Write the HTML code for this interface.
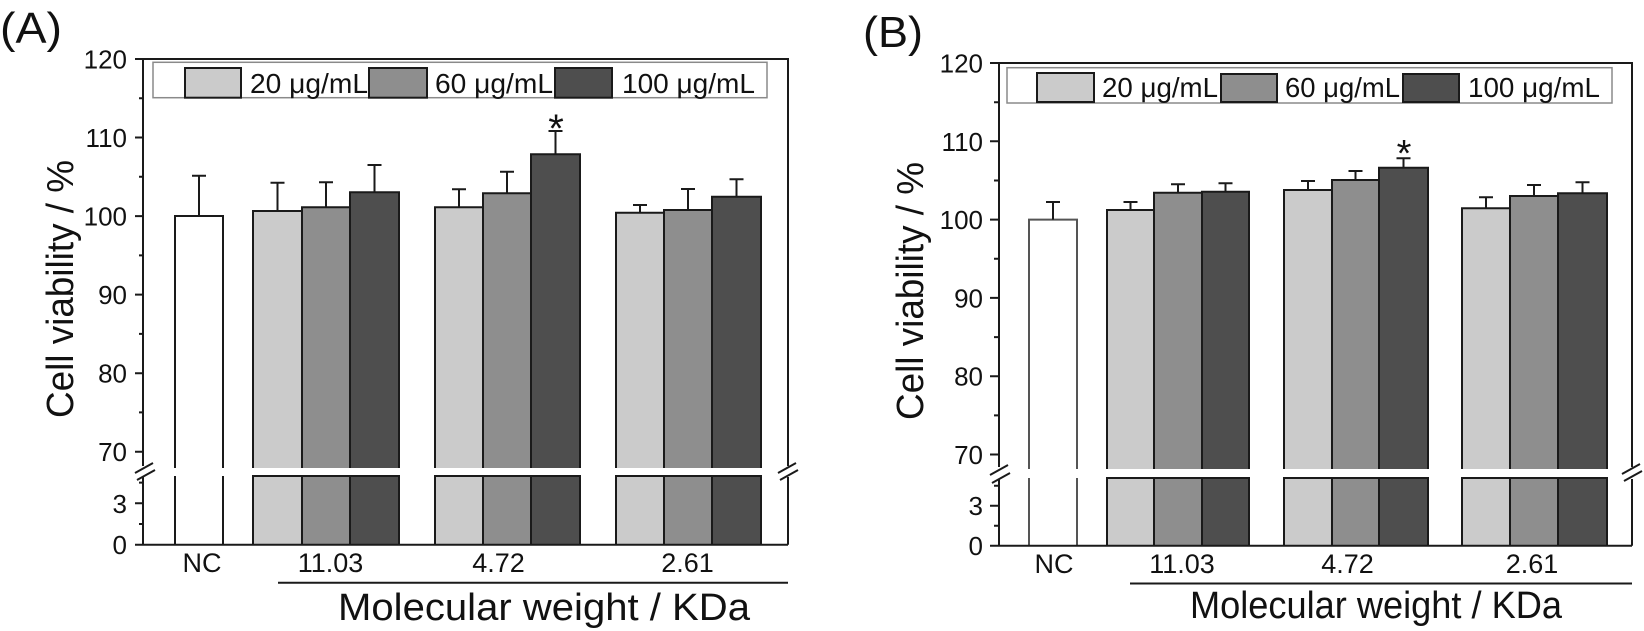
<!DOCTYPE html>
<html>
<head>
<meta charset="utf-8">
<style>
html,body{margin:0;padding:0;background:#fff;}
svg{display:block;}
text{font-family:"Liberation Sans",Arial,sans-serif;fill:#111;}
</style>
</head>
<body>
<svg width="1644" height="631" viewBox="0 0 1644 631" xmlns="http://www.w3.org/2000/svg">
<rect width="1644" height="631" fill="#fff"/>

<!-- ================= PANEL A ================= -->
<text x="0" y="43" font-size="44" textLength="62" lengthAdjust="spacingAndGlyphs">(A)</text>

<g stroke="none">
  <rect x="175" y="216" width="48" height="252" fill="#fff"/>
  <rect x="175" y="476" width="48" height="69" fill="#fff"/>
  <rect x="253" y="211" width="49" height="257" fill="#cbcbcb"/>
  <rect x="253" y="476" width="49" height="69" fill="#cbcbcb"/>
  <rect x="302" y="207.3" width="48" height="260.7" fill="#8e8e8e"/>
  <rect x="302" y="476" width="48" height="69" fill="#8e8e8e"/>
  <rect x="350" y="192.3" width="49" height="275.7" fill="#4e4e4e"/>
  <rect x="350" y="476" width="49" height="69" fill="#4e4e4e"/>
  <rect x="435" y="207.3" width="48" height="260.7" fill="#cbcbcb"/>
  <rect x="435" y="476" width="48" height="69" fill="#cbcbcb"/>
  <rect x="483" y="193.3" width="48" height="274.7" fill="#8e8e8e"/>
  <rect x="483" y="476" width="48" height="69" fill="#8e8e8e"/>
  <rect x="531" y="154.3" width="49" height="313.7" fill="#4e4e4e"/>
  <rect x="531" y="476" width="49" height="69" fill="#4e4e4e"/>
  <rect x="616" y="212.7" width="48" height="255.3" fill="#cbcbcb"/>
  <rect x="616" y="476" width="48" height="69" fill="#cbcbcb"/>
  <rect x="664" y="210" width="48" height="258" fill="#8e8e8e"/>
  <rect x="664" y="476" width="48" height="69" fill="#8e8e8e"/>
  <rect x="712" y="196.7" width="49" height="271.3" fill="#4e4e4e"/>
  <rect x="712" y="476" width="49" height="69" fill="#4e4e4e"/>
</g>
<g fill="none" stroke="#1a1a1a" stroke-width="2">
  <path d="M175 468V216H223V468M175 476V545M223 476V545"/>
  <path d="M253 468V211H302V468M253 545V476H302V545"/>
  <path d="M302 468V207.3H350V468M302 545V476H350V545"/>
  <path d="M350 468V192.3H399V468M350 545V476H399V545"/>
  <path d="M435 468V207.3H483V468M435 545V476H483V545"/>
  <path d="M483 468V193.3H531V468M483 545V476H531V545"/>
  <path d="M531 468V154.3H580V468M531 545V476H580V545"/>
  <path d="M616 468V212.7H664V468M616 545V476H664V545"/>
  <path d="M664 468V210H712V468M664 545V476H712V545"/>
  <path d="M712 468V196.7H761V468M712 545V476H761V545"/>
</g>
<g fill="none" stroke="#1a1a1a" stroke-width="2">
  <path d="M199 216V175.7M192 175.7H206"/>
  <path d="M277.5 211V182.7M270.5 182.7H284.5"/>
  <path d="M326 207.3V182.3M319 182.3H333"/>
  <path d="M374.5 192.3V165M367.5 165H381.5"/>
  <path d="M459 207.3V189.3M452 189.3H466"/>
  <path d="M507 193.3V171.7M500 171.7H514"/>
  <path d="M555.5 154.3V131M548.5 131H562.5"/>
  <path d="M640 212.7V205M633 205H647"/>
  <path d="M688 210V189M681 189H695"/>
  <path d="M736.5 196.7V179.3M729.5 179.3H743.5"/>
</g>
<text x="556" y="142" font-size="40" text-anchor="middle" fill="#333">*</text>

<g fill="none" stroke="#1a1a1a" stroke-width="2">
  <path d="M143 466V59H788V466"/>
  <path d="M143 477V544.7M788 477V544.7"/>
  <path d="M135 544.7H788"/>
  <path d="M135 473L153 463M137 480L155 470"/>
  <path d="M778 473L796 463M780 480L798 470"/>
  <path d="M135 59H143M135 137.5H143M135 216.1H143M135 294.6H143M135 373.2H143M135 451.7H143M135 503.3H143"/>
  <path d="M139 98.3H143M139 176.8H143M139 255.4H143M139 333.9H143M139 412.4H143M139 524H143M139 482.6H143"/>
</g>
<g font-size="26" text-anchor="end">
  <text x="127" y="68.5">120</text>
  <text x="127" y="147">110</text>
  <text x="127" y="225.5">100</text>
  <text x="127" y="304">90</text>
  <text x="127" y="382.5">80</text>
  <text x="127" y="461">70</text>
  <text x="127" y="512.8">3</text>
  <text x="127" y="554.2">0</text>
</g>

<rect x="153" y="62.3" width="614" height="35.4" fill="#fff" stroke="#8a8a8a" stroke-width="1.5"/>
<rect x="185" y="68" width="56" height="29.7" fill="#cbcbcb" stroke="#1a1a1a" stroke-width="2"/>
<rect x="369" y="68" width="58" height="29.7" fill="#8e8e8e" stroke="#1a1a1a" stroke-width="2"/>
<rect x="555" y="68" width="57" height="29.7" fill="#4e4e4e" stroke="#1a1a1a" stroke-width="2"/>
<g font-size="28">
  <text x="250" y="93" textLength="118" lengthAdjust="spacingAndGlyphs">20 μg/mL</text>
  <text x="435" y="93" textLength="118" lengthAdjust="spacingAndGlyphs">60 μg/mL</text>
  <text x="622" y="93" textLength="133" lengthAdjust="spacingAndGlyphs">100 μg/mL</text>
</g>

<text transform="translate(73,289) rotate(-90)" font-size="38" text-anchor="middle" textLength="258" lengthAdjust="spacingAndGlyphs">Cell viability / %</text>
<g font-size="27" text-anchor="middle">
  <text x="202" y="572">NC</text>
  <text x="330.5" y="572">11.03</text>
  <text x="498.5" y="572">4.72</text>
  <text x="687.5" y="572">2.61</text>
</g>
<path d="M278 582.7H788" stroke="#1a1a1a" stroke-width="2"/>
<text x="338" y="620" font-size="38" textLength="412" lengthAdjust="spacingAndGlyphs">Molecular weight / KDa</text>

<!-- ================= PANEL B ================= -->
<text x="863" y="47" font-size="44" textLength="60" lengthAdjust="spacingAndGlyphs">(B)</text>

<g stroke="none">
  <rect x="1029" y="219.6" width="48" height="249.4" fill="#fff"/>
  <rect x="1029" y="478" width="48" height="68" fill="#fff"/>
  <rect x="1107" y="210" width="47" height="259" fill="#cbcbcb"/>
  <rect x="1107" y="478" width="47" height="68" fill="#cbcbcb"/>
  <rect x="1154" y="192.7" width="48" height="276.3" fill="#8e8e8e"/>
  <rect x="1154" y="478" width="48" height="68" fill="#8e8e8e"/>
  <rect x="1202" y="191.7" width="47" height="277.3" fill="#4e4e4e"/>
  <rect x="1202" y="478" width="47" height="68" fill="#4e4e4e"/>
  <rect x="1284" y="190" width="48" height="279" fill="#cbcbcb"/>
  <rect x="1284" y="478" width="48" height="68" fill="#cbcbcb"/>
  <rect x="1332" y="180" width="47" height="289" fill="#8e8e8e"/>
  <rect x="1332" y="478" width="47" height="68" fill="#8e8e8e"/>
  <rect x="1379" y="167.7" width="49" height="301.3" fill="#4e4e4e"/>
  <rect x="1379" y="478" width="49" height="68" fill="#4e4e4e"/>
  <rect x="1462" y="208.3" width="48" height="260.7" fill="#cbcbcb"/>
  <rect x="1462" y="478" width="48" height="68" fill="#cbcbcb"/>
  <rect x="1510" y="196" width="48" height="273" fill="#8e8e8e"/>
  <rect x="1510" y="478" width="48" height="68" fill="#8e8e8e"/>
  <rect x="1558" y="193.3" width="49" height="275.7" fill="#4e4e4e"/>
  <rect x="1558" y="478" width="49" height="68" fill="#4e4e4e"/>
</g>
<g fill="none" stroke="#1a1a1a" stroke-width="2">
  <path d="M1029 469V219.6H1077V469M1029 478V546M1077 478V546" stroke="#555"/>
  <path d="M1107 469V210H1154V469M1107 546V478H1154V546"/>
  <path d="M1154 469V192.7H1202V469M1154 546V478H1202V546"/>
  <path d="M1202 469V191.7H1249V469M1202 546V478H1249V546"/>
  <path d="M1284 469V190H1332V469M1284 546V478H1332V546"/>
  <path d="M1332 469V180H1379V469M1332 546V478H1379V546"/>
  <path d="M1379 469V167.7H1428V469M1379 546V478H1428V546"/>
  <path d="M1462 469V208.3H1510V469M1462 546V478H1510V546"/>
  <path d="M1510 469V196H1558V469M1510 546V478H1558V546"/>
  <path d="M1558 469V193.3H1607V469M1558 546V478H1607V546"/>
</g>
<g fill="none" stroke="#1a1a1a" stroke-width="2">
  <path d="M1053 219.6V202M1046 202H1060"/>
  <path d="M1130.5 210V202M1123.5 202H1137.5"/>
  <path d="M1178 192.7V184.3M1171 184.3H1185"/>
  <path d="M1225.5 191.7V183.3M1218.5 183.3H1232.5"/>
  <path d="M1308 190V181M1301 181H1315"/>
  <path d="M1355.5 180V171M1348.5 171H1362.5"/>
  <path d="M1403.5 167.7V158.3M1396.5 158.3H1410.5"/>
  <path d="M1486 208.3V197.3M1479 197.3H1493"/>
  <path d="M1534 196V185M1527 185H1541"/>
  <path d="M1582.5 193.3V182.3M1575.5 182.3H1589.5"/>
</g>
<text x="1404" y="166" font-size="38" text-anchor="middle" fill="#333">*</text>

<g fill="none" stroke="#1a1a1a" stroke-width="2">
  <path d="M999 467V63H1632V467"/>
  <path d="M999 479V545.7M1632 479V545.7"/>
  <path d="M990 545.7H1632"/>
  <path d="M990 475L1008 465M992 483L1010 473"/>
  <path d="M1622 474L1640 464M1624 481L1642 471"/>
  <path d="M990 63H999M990 141.3H999M990 219.6H999M990 297.9H999M990 376.2H999M990 454.5H999M990 505.7H999"/>
  <path d="M994 102.2H999M994 180.5H999M994 258.8H999M994 337.1H999M994 415.4H999M994 525.7H999M994 485.7H999"/>
</g>
<g font-size="26" text-anchor="end">
  <text x="983" y="72.5">120</text>
  <text x="983" y="150.8">110</text>
  <text x="983" y="229.1">100</text>
  <text x="983" y="307.4">90</text>
  <text x="983" y="385.7">80</text>
  <text x="983" y="464">70</text>
  <text x="983" y="515.2">3</text>
  <text x="983" y="555.2">0</text>
</g>

<rect x="1007" y="67.7" width="605" height="35.3" fill="#fff" stroke="#8a8a8a" stroke-width="1.5"/>
<rect x="1037" y="73" width="57" height="29" fill="#cbcbcb" stroke="#1a1a1a" stroke-width="2"/>
<rect x="1221" y="74" width="56" height="28" fill="#8e8e8e" stroke="#1a1a1a" stroke-width="2"/>
<rect x="1403" y="74" width="56" height="28" fill="#4e4e4e" stroke="#1a1a1a" stroke-width="2"/>
<g font-size="28">
  <text x="1102" y="97" textLength="116" lengthAdjust="spacingAndGlyphs">20 μg/mL</text>
  <text x="1285" y="97" textLength="115" lengthAdjust="spacingAndGlyphs">60 μg/mL</text>
  <text x="1468" y="97" textLength="132" lengthAdjust="spacingAndGlyphs">100 μg/mL</text>
</g>

<text transform="translate(923,291) rotate(-90)" font-size="38" text-anchor="middle" textLength="258" lengthAdjust="spacingAndGlyphs">Cell viability / %</text>
<g font-size="27" text-anchor="middle">
  <text x="1054" y="573">NC</text>
  <text x="1182" y="573">11.03</text>
  <text x="1347.5" y="573">4.72</text>
  <text x="1532" y="573">2.61</text>
</g>
<path d="M1130 583.5H1632" stroke="#1a1a1a" stroke-width="2"/>
<text x="1190" y="618" font-size="38" textLength="372" lengthAdjust="spacingAndGlyphs">Molecular weight / KDa</text>
</svg>
</body>
</html>
